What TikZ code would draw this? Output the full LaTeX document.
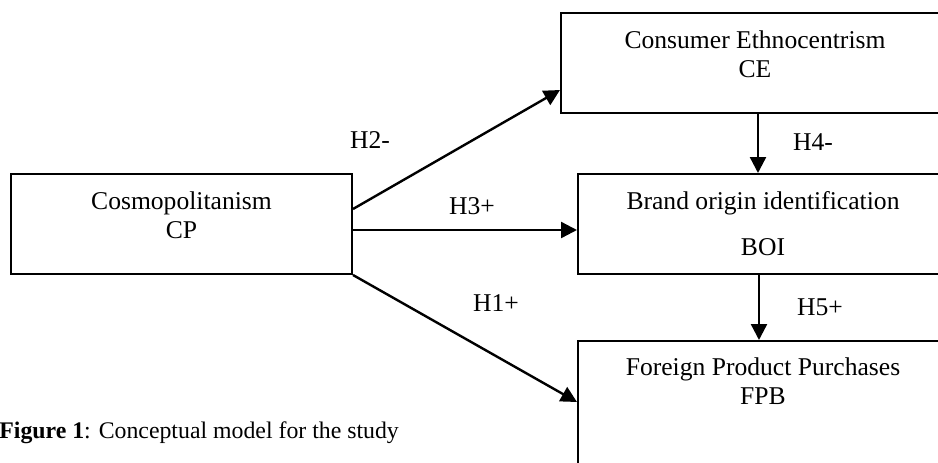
\documentclass[tikz,border=0pt]{standalone}
\usepackage{fontspec}
\setmainfont{Liberation Serif}
\usetikzlibrary{arrows.meta,positioning}

\tikzset{
  box/.style={draw, line width=1pt, inner sep=0pt},
  txt/.style={align=center, inner sep=0pt, font=\fontsize{12.8}{14.5}\selectfont},
  hyp/.style={inner sep=0pt, font=\fontsize{12.8}{14}\selectfont},
  arr/.style={line width=1.2pt, -{Triangle[length=8pt,width=8pt]}}
}

\begin{document}
\begin{tikzpicture}[x=0.5pt,y=0.5pt]
	\clip (0,0) rectangle (938,462);
	% the four constructs
	\node[box, minimum width=170.5pt, minimum height=50pt] (cp) at (181.5,238) {};
	\node[box, minimum width=194pt, minimum height=50pt] (ce) at (755,399) {};
	\node[box, minimum width=185pt, minimum height=50pt] (boi) at (763,238) {};
	\node[box, minimum width=185pt, minimum height=65pt] (fpb) at (763,56) {};
	\node[txt, below=9pt of cp.north] (cptxt) {Cosmopolitanism\\CP};
	\node[txt, below=9pt of ce.north] (cetxt) {Consumer Ethnocentrism\\CE};
	\node[txt, below=9pt of boi.north] (boitxt) {Brand origin identification\\[8.5pt]BOI};
	\node[txt, below=8.5pt of fpb.north] (fpbtxt) {Foreign Product Purchases\\FPB};
	% paths
	\draw[arr] ([yshift=7.5pt]cp.east) -- ([yshift=-13.5pt]ce.west);
	\draw[arr] ([yshift=-3pt]cp.east) -- ([yshift=-3pt]boi.west);
	\draw[arr] (cp.south east) -- ([yshift=2pt]fpb.west);
	\draw[arr] ([xshift=1.5pt]ce.south) -- ([xshift=1.5pt]ce.south |- boi.north);
	\draw[arr] ([xshift=-2pt]boi.south) -- ([xshift=-2pt]boi.south |- fpb.north);
	% hypotheses
	\node[hyp] (h2) at (370,322) {H2-};
	\node[hyp] (h3) at (472,256) {H3+};
	\node[hyp] (h1) at (496,159) {H1+};
	\node[hyp] (h4) at (813,320) {H4-};
	\node[hyp] (h5) at (820,155) {H5+};
	\node[anchor=west, inner sep=0pt, font=\fontsize{11.9}{14}\selectfont] (cap) at (-1,29) {\textbf{Figure 1}: Conceptual model for the study};
\end{tikzpicture}
\end{document}
